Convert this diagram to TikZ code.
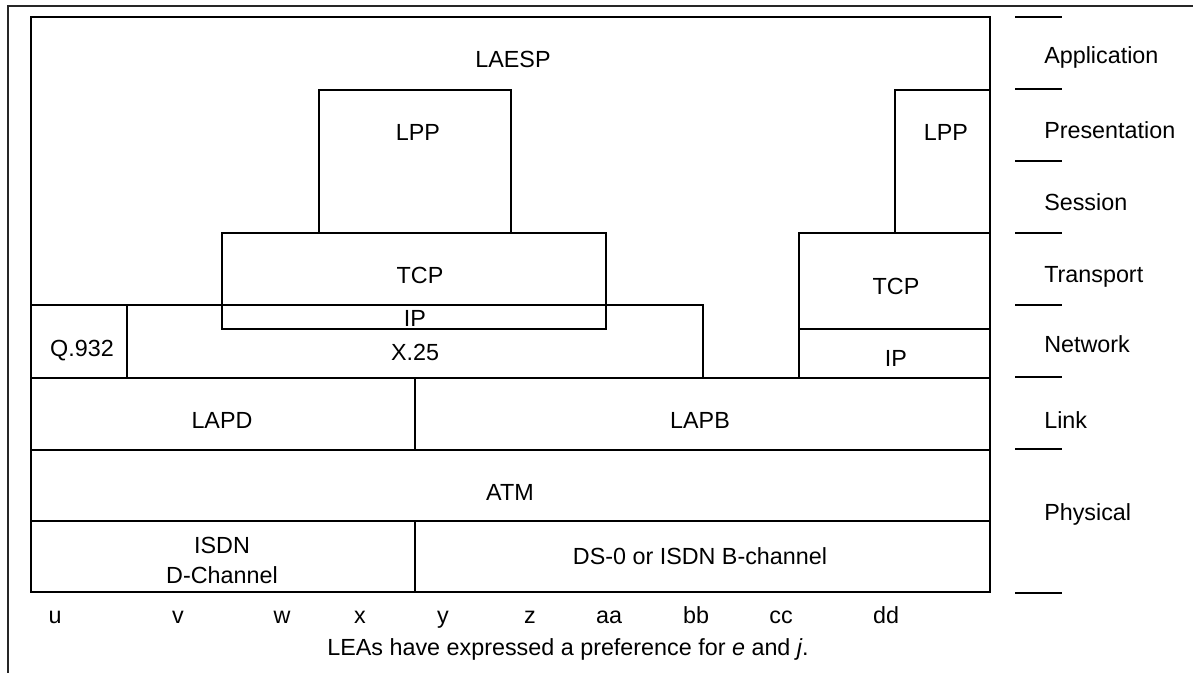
\documentclass[tikz,border=0pt]{standalone}
\usepackage{fontspec}
\setmainfont{Liberation Sans}
\begin{document}
\begin{tikzpicture}[x=0.75pt,y=-0.75pt,
  thinline/.style={line width=0.95pt,draw=black},
  thickline/.style={line width=2.2pt,draw=black},
  frameline/.style={line width=1.8pt,draw=black!85},
  tick/.style={line width=2.2pt,draw=black},
  lbl/.style={inner sep=0pt,font=\fontsize{17.5}{22.5}\selectfont,text height=12.5pt,text depth=0pt},
  lay/.style={lbl,anchor=west}]
\useasboundingbox (0,0) rectangle (1193,672);
% outer frame
\draw[frameline] (1200,6) -- (8,6) -- (8,680);
% inner boxes
\draw[thinline] (319,233) -- (319,90) -- (511,90) -- (511,233);
\draw[thinline] (222,233) rectangle (606,329);
\draw[thinline] (222,305) -- (606,305);
\draw[thinline] (31,305) -- (703,305) -- (703,378);
\draw[thinline] (127,305) -- (127,378);
\draw[thinline] (895,233) -- (895,90) -- (990,90);
\draw[thinline] (799,378) -- (799,233) -- (990,233);
\draw[thinline] (799,329) -- (990,329);
\draw[thinline] (31,378) -- (990,378);
\draw[thinline] (31,450) -- (990,450);
\draw[thinline] (31,521) -- (990,521);
\draw[thinline] (415,378) -- (415,450);
\draw[thinline] (415,521) -- (415,592);
\draw[thickline] (31,17) rectangle (990,592);
% texts
\node[lbl] (laesp) at (513,59) {LAESP};
\node[lbl] (lpp1) at (418,132) {LPP};
\node[lbl] (tcp1) at (420,275) {TCP};
\node[lbl] (ip1) at (415,318) {IP};
\node[lbl] (q932) at (82,348) {Q.932};
\node[lbl] (x25) at (415,352) {X.25};
\node[lbl] (lpp2) at (946,132) {LPP};
\node[lbl] (tcp2) at (896,286) {TCP};
\node[lbl] (ip2) at (896,358) {IP};
\node[lbl] (lapd) at (222,420) {LAPD};
\node[lbl] (lapb) at (700,420) {LAPB};
\node[lbl] (atm) at (510,492) {ATM};
\node[lbl] (isdnd1) at (222,545) {ISDN};
\node[lbl] (isdnd2) at (222,575) {D-Channel};
\node[lbl] (ds0) at (700,556) {DS-0 or ISDN B-channel};
% layer ticks
\foreach \yy [count=\i] in {17,89,161,233,305,377,449,593}
  \draw[tick] (1015,\yy) -- (1062,\yy);
\node[lay] (app) at (1044,55) {Application};
\node[lay] (pres) at (1044,130) {Presentation};
\node[lay] (sess) at (1044,202) {Session};
\node[lay] (trans) at (1044,274) {Transport};
\node[lay] (net) at (1044,344) {Network};
\node[lay] (link) at (1044,420) {Link};
\node[lay] (phys) at (1044,512) {Physical};
% bottom letters
\node[lbl] (lu) at (55,615) {u};
\node[lbl] (lv) at (178,615) {v};
\node[lbl] (lw) at (282,615) {w};
\node[lbl] (lx) at (360,615) {x};
\node[lbl] (ly) at (443,615) {y};
\node[lbl] (lz) at (530,615) {z};
\node[lbl] (laa) at (609,615) {aa};
\node[lbl] (lbb) at (696,615) {bb};
\node[lbl] (lcc) at (781,615) {cc};
\node[lbl] (ldd) at (886,615) {dd};
\node[lbl] (cap) at (568,647) {LEAs have expressed a preference for \textit{e} and \textit{j}.};
\end{tikzpicture}
\end{document}
